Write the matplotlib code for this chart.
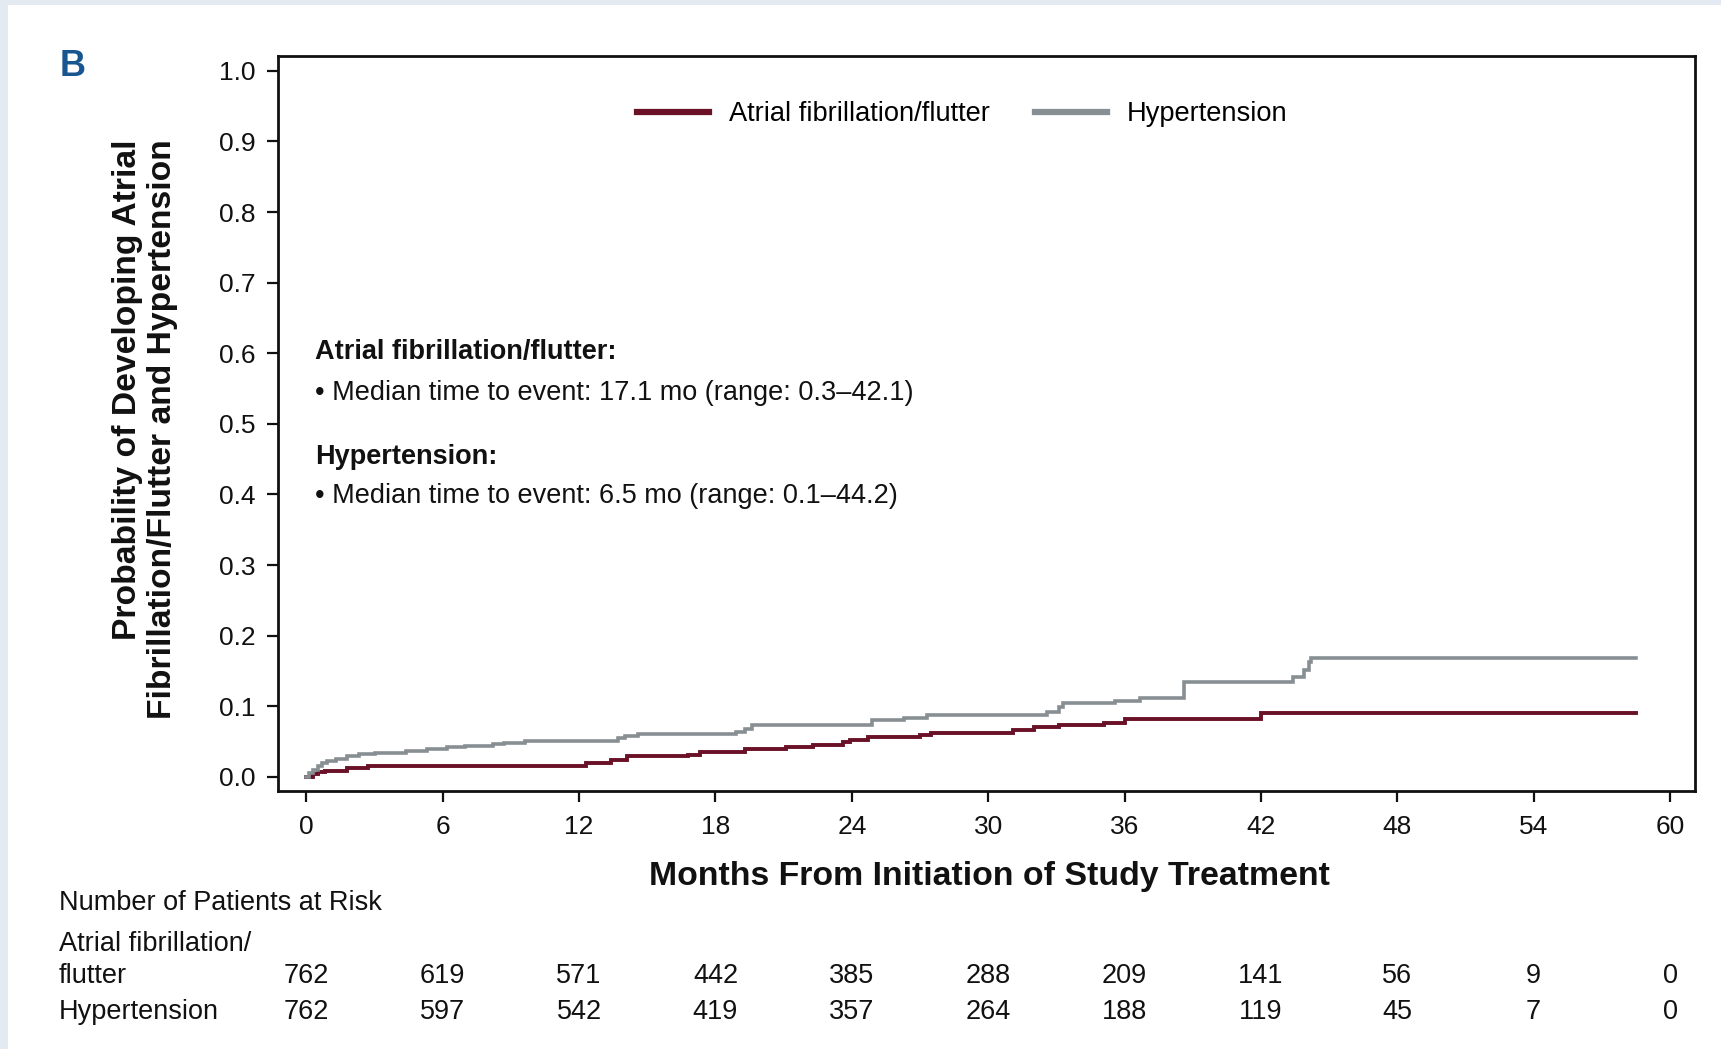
import matplotlib
matplotlib.use("Agg")
import matplotlib.pyplot as plt
from matplotlib.patches import Rectangle
from matplotlib.transforms import blended_transform_factory

plt.rcParams['font.family'] = ['Liberation Sans', 'DejaVu Sans']

# Cumulative incidence step functions (months, probability)
af_time = [0, 0.3, 0.5, 0.8, 1.8, 2.7, 12.3, 13.4, 14.1, 16.8, 17.3, 19.3, 21.1,
           22.3, 23.6, 23.9, 24.7, 27.0, 27.5, 31.1, 32.0, 33.1, 35.1, 36.0, 42.0, 58.5]
af_prob = [0, 0.004, 0.007, 0.009, 0.012, 0.016, 0.020, 0.024, 0.029, 0.031, 0.035,
           0.039, 0.042, 0.045, 0.050, 0.052, 0.057, 0.0595, 0.062, 0.0665, 0.070,
           0.073, 0.077, 0.082, 0.090, 0.090]

htn_time = [0, 0.1, 0.3, 0.5, 0.7, 0.9, 1.3, 1.8, 2.3, 3.0, 4.4, 5.3, 6.2, 7.0, 8.2,
            8.7, 9.6, 13.7, 14.0, 14.6, 18.9, 19.3, 19.6, 24.9, 26.3, 27.3, 32.6,
            33.1, 33.3, 35.6, 36.7, 38.6, 43.4, 43.9, 44.1, 44.2, 58.5]
htn_prob = [0, 0.005, 0.010, 0.015, 0.019, 0.023, 0.026, 0.029, 0.032, 0.034, 0.036,
            0.039, 0.042, 0.044, 0.046, 0.048, 0.051, 0.055, 0.058, 0.061, 0.064,
            0.068, 0.074, 0.080, 0.083, 0.087, 0.092, 0.099, 0.104, 0.107, 0.112,
            0.134, 0.142, 0.151, 0.162, 0.169, 0.169]

# Number at risk table
risk_months = [0, 6, 12, 18, 24, 30, 36, 42, 48, 54, 60]
af_at_risk = [762, 619, 571, 442, 385, 288, 209, 141, 56, 9, 0]
htn_at_risk = [762, 597, 542, 419, 357, 264, 188, 119, 45, 7, 0]

x_ticks = [0, 6, 12, 18, 24, 30, 36, 42, 48, 54, 60]
y_ticks = [0.0, 0.1, 0.2, 0.3, 0.4, 0.5, 0.6, 0.7, 0.8, 0.9, 1.0]

AF_COLOR = '#6a1027'
HTN_COLOR = '#878f93'
INK = '#111111'

W, H = 1721, 1049
fig = plt.figure(figsize=(W / 100, H / 100), dpi=100, facecolor='#e3eaf2')
fig.patches.append(Rectangle((8 / W, 0), 1, 1 - 5 / H, transform=fig.transFigure,
                             facecolor='white', edgecolor='none', zorder=-10))

ax = fig.add_axes([278 / W, 1 - 791 / H, (1695 - 278) / W, (791 - 56) / H])
ax.set_facecolor('white')

ax.step(af_time, af_prob, where='post', color=AF_COLOR, lw=2.8,
        label='Atrial fibrillation/flutter', solid_joinstyle='miter')
ax.step(htn_time, htn_prob, where='post', color=HTN_COLOR, lw=2.6,
        label='Hypertension', solid_joinstyle='miter')

ax.set_xlim(-1.25, 61.1)
ax.set_ylim(-0.02, 1.021)
ax.set_xticks(x_ticks)
ax.set_yticks(y_ticks)
ax.set_yticklabels([f'{v:.1f}' for v in y_ticks])
for s in ax.spines.values():
    s.set_linewidth(2.0)
    s.set_color(INK)
ax.tick_params(direction='out', length=8, width=1.6, labelsize=19, colors=INK)
ax.tick_params(axis='x', pad=9)
ax.tick_params(axis='y', pad=8)

ax.set_xlabel('Months From Initiation of Study Treatment', fontsize=24.4,
              fontweight='bold', color=INK)
ax.xaxis.set_label_coords(0.502, -0.117)
ax.xaxis.label.set_va('center')

fig.text(145 / W, 1 - 139 / H,
         'Probability of Developing Atrial\nFibrillation/Flutter and Hypertension',
         rotation=90, ha='center', va='top', multialignment='right',
         fontsize=24.2, fontweight='bold', color=INK, linespacing=1.18)

fig.text(60 / W, 1 - 67 / H, 'B', fontsize=26, fontweight='bold', color='#18568f',
         ha='left', va='center')

leg = ax.legend(loc='center', bbox_to_anchor=(0.483, 0.921), ncol=2, frameon=False,
                fontsize=19.6, handlelength=2.65, handletextpad=0.73,
                columnspacing=1.65)
for line in leg.get_lines():
    line.set_linewidth(4.5)

tx = 0.026
fs_note = 19.5
ax.text(tx, 0.597, 'Atrial fibrillation/flutter:', transform=ax.transAxes,
        fontsize=fs_note, fontweight='bold', va='center', ha='left', color=INK)
ax.text(tx, 0.542, '\u2022 Median time to event: 17.1 mo (range: 0.3\u201342.1)',
        transform=ax.transAxes, fontsize=fs_note, va='center', ha='left', color=INK)
ax.text(tx, 0.454, 'Hypertension:', transform=ax.transAxes,
        fontsize=fs_note, fontweight='bold', va='center', ha='left', color=INK)
ax.text(tx, 0.401, '\u2022 Median time to event: 6.5 mo (range: 0.1\u201344.2)',
        transform=ax.transAxes, fontsize=fs_note, va='center', ha='left', color=INK)

# Number-at-risk table beneath the axis
row_x = 59 / W
fs_tab = 19.5
fig.text(row_x, 1 - 903 / H, 'Number of Patients at Risk', fontsize=fs_tab,
         va='center', ha='left', color=INK)
fig.text(row_x, 1 - 944 / H, 'Atrial fibrillation/', fontsize=fs_tab,
         va='center', ha='left', color=INK)
fig.text(row_x, 1 - 976 / H, 'flutter', fontsize=fs_tab, va='center', ha='left',
         color=INK)
fig.text(row_x, 1 - 1012 / H, 'Hypertension', fontsize=fs_tab, va='center',
         ha='left', color=INK)

trans = blended_transform_factory(ax.transData, fig.transFigure)
for m, a, h in zip(risk_months, af_at_risk, htn_at_risk):
    ax.text(m, 1 - 976 / H, str(a), transform=trans, fontsize=fs_tab, ha='center',
            va='center', color=INK, clip_on=False)
    ax.text(m, 1 - 1012 / H, str(h), transform=trans, fontsize=fs_tab, ha='center',
            va='center', color=INK, clip_on=False)

fig.savefig('out.png', dpi=100, facecolor=fig.get_facecolor())
